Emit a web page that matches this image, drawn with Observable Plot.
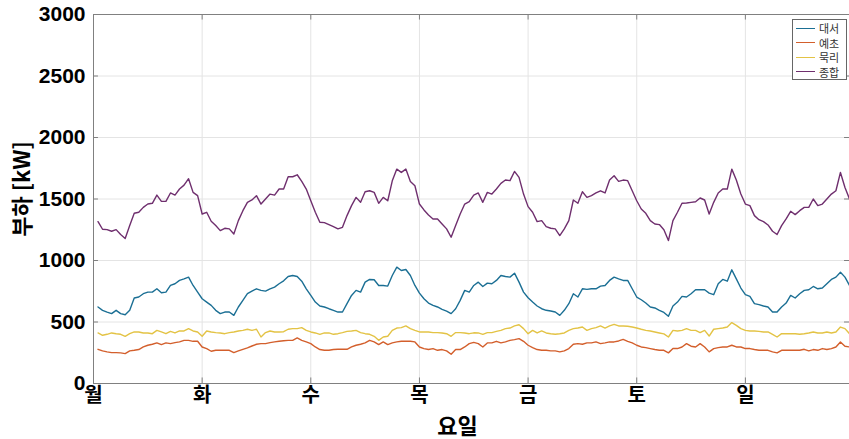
<!DOCTYPE html>
<html><head><meta charset="utf-8">
<script src="https://cdn.jsdelivr.net/npm/d3@7"></script>
<script src="https://cdn.jsdelivr.net/npm/@observablehq/plot@0.6"></script>
<style>
body{margin:0;background:#fff;}
#wrap{position:relative;width:849px;height:439px;overflow:hidden;}
#legend{position:absolute;left:792px;top:19px;width:55px;height:61px;border:1px solid #666;background:#fff;box-sizing:border-box;font-family:"Noto Sans CJK KR",sans-serif;font-size:11px;color:#333;}
.row{position:absolute;left:3px;height:14px;display:flex;align-items:center;white-space:nowrap;}
.sw{width:19px;height:0;border-top:1.5px solid;margin-right:4px;}
</style></head>
<body><div id="wrap"></div>
<script>
const seriesNames = ["대서","예초","묵리","종합"];
const colors = ["#1b6f94","#d35f2c","#e3c345","#6f2f6e"];
const dayLabels = ["월","화","수","목","금","토","일"];
const dayTicks = [0,24,48,72,96,120,144];
const yTicks = [0,500,1000,1500,2000,2500,3000];
const hours = d3.range(1,168);

const daeseo = [622,595,581,568,595,568,559,595,695,703,730,743,743,770,738,743,797,811,838,851,865,797,743,689,
662,635,595,568,581,581,554,622,676,730,751,770,757,751,770,784,811,835,870,878,870,832,770,716,
662,630,622,608,595,581,581,649,716,757,743,824,846,843,797,797,792,878,946,919,927,878,797,735,
689,654,635,622,603,589,568,608,676,757,743,797,824,789,816,811,838,878,870,865,897,824,743,697,
662,630,608,595,589,581,554,595,649,730,703,770,765,770,770,792,797,838,865,851,838,838,770,703,
681,654,622,614,595,578,546,630,662,708,703,730,762,762,762,735,722,811,846,832,924,851,776,722,
708,649,641,630,622,581,581,622,654,716,695,730,757,762,789,770,776,811,846,865,905,865,797];

const yecho = [278,265,257,251,251,249,243,265,270,276,297,311,319,330,316,330,324,332,338,351,351,343,343,297,
284,262,270,270,270,270,251,265,278,289,305,319,324,324,332,338,343,347,351,351,370,351,338,324,
297,276,270,270,276,278,278,278,297,311,319,330,351,338,316,338,316,330,338,343,343,343,338,297,
284,276,284,270,276,265,238,276,276,297,324,334,324,297,330,330,343,330,338,351,357,365,343,311,
292,276,270,270,265,265,257,265,284,319,324,319,330,330,338,324,330,338,338,346,359,343,330,311,
297,292,284,276,270,270,249,284,284,297,324,303,297,324,297,257,284,292,297,297,311,297,297,284,
284,276,270,270,270,257,249,270,270,270,270,270,278,265,276,270,284,276,284,297,338,303,297];

const mukri = [411,392,400,411,405,400,384,405,419,419,411,411,405,432,419,405,424,411,427,427,446,427,419,384,
427,419,414,411,405,414,419,427,432,441,432,441,378,414,427,419,419,421,441,446,446,454,432,419,
411,400,411,411,400,405,414,424,427,432,414,405,400,384,351,378,384,432,451,454,468,446,432,419,
419,419,414,414,411,405,384,414,414,411,405,412,411,400,414,414,424,432,446,451,468,478,446,405,
432,411,427,411,405,400,405,411,432,446,451,459,432,446,454,468,451,468,481,468,468,465,459,451,
441,432,427,419,411,403,378,432,427,432,446,432,432,414,432,386,441,446,451,459,495,473,446,432,
427,427,424,419,419,400,378,405,405,405,405,400,405,411,419,411,411,419,411,419,459,446,405];

const total = [1316,1254,1251,1238,1251,1211,1179,1284,1384,1392,1432,1459,1465,1532,1481,1481,1549,1532,1581,1613,1665,1554,1527,1378,
1392,1319,1284,1243,1262,1257,1216,1324,1405,1473,1492,1527,1459,1500,1540,1532,1581,1581,1681,1681,1697,1643,1581,1486,
1392,1311,1308,1292,1276,1257,1270,1365,1446,1513,1473,1559,1567,1554,1465,1513,1486,1648,1743,1716,1743,1643,1608,1459,
1411,1370,1338,1338,1297,1257,1189,1284,1378,1459,1478,1532,1549,1473,1554,1540,1581,1627,1654,1649,1724,1676,1540,1438,
1392,1316,1324,1276,1262,1257,1203,1257,1324,1492,1465,1559,1513,1527,1549,1567,1549,1654,1689,1643,1654,1649,1567,1486,
1419,1384,1324,1297,1292,1250,1162,1324,1392,1465,1468,1473,1478,1508,1492,1378,1473,1549,1581,1581,1743,1654,1540,1459,
1446,1365,1332,1316,1289,1238,1211,1284,1338,1400,1373,1405,1432,1432,1500,1446,1459,1500,1540,1567,1716,1594,1500];

const rows = [];
[daeseo, yecho, mukri, total].forEach((arr, k) =>
  arr.forEach((v, i) => rows.push({hour: hours[i], value: v, series: seriesNames[k]})));

const chart = Plot.plot({
  width: 849, height: 439,
  marginLeft: 93, marginRight: 0, marginTop: 14, marginBottom: 56,
  x: {domain: [0, 167]},
  y: {domain: [0, 3000]},
  color: {domain: seriesNames, range: colors},
  style: {fontFamily: "'Liberation Sans', 'Noto Sans CJK KR', sans-serif", background: "#fff", color: "#000"},
  marks: [
    Plot.gridX(dayTicks, {stroke: "#e4e4e4", strokeOpacity: 1}),
    Plot.gridY(yTicks, {stroke: "#e4e4e4", strokeOpacity: 1}),
    Plot.frame({stroke: "#808080"}),
    Plot.ruleX(dayTicks, {x: d => d, y1: 0, y2: 45, stroke: "#808080"}),
    Plot.ruleX(dayTicks, {x: d => d, y1: 2955, y2: 3000, stroke: "#808080"}),
    Plot.ruleY(yTicks, {y: d => d, x1: 0, x2: 1.1, stroke: "#808080"}),
    Plot.ruleY(yTicks, {y: d => d, x1: 165.9, x2: 167, stroke: "#808080"}),
    Plot.line(rows, {x: "hour", y: "value", z: "series", stroke: "series", strokeWidth: 1.4}),
    Plot.axisY({ticks: yTicks, tickSize: 0, tickPadding: 8, tickFormat: d => String(d), fontSize: 21, fontWeight: "bold", label: null, fill: "#000"}),
    Plot.axisX({ticks: dayTicks, tickSize: 0, tickPadding: 4, tickFormat: d => dayLabels[dayTicks.indexOf(d)],
      fontSize: 20, fontWeight: "bold", label: null, fill: "#000", fontFamily: "'Noto Sans CJK KR', sans-serif"}),
    Plot.text(["부하 [kW]"], {frameAnchor: "left", textAnchor: "middle", lineAnchor: "middle", rotate: -90, dx: -71, dy: -10, fontSize: 22, fontWeight: "bold",
      fontFamily: "'Noto Sans CJK KR', sans-serif", fill: "#000"}),
    Plot.text(["요일"], {frameAnchor: "bottom", textAnchor: "middle", dx: -14, dy: 50, fontSize: 22, fontWeight: "bold",
      fontFamily: "'Noto Sans CJK KR', sans-serif", fill: "#000"})
  ]
});
const wrap = document.getElementById("wrap");
wrap.appendChild(chart);

const legend = document.createElement("div");
legend.id = "legend";
seriesNames.forEach((name, i) => {
  const row = document.createElement("div");
  row.className = "row";
  row.style.top = (1 + i * 14.5) + "px";
  const sw = document.createElement("span");
  sw.className = "sw";
  sw.style.borderTopColor = colors[i];
  const t = document.createElement("span");
  t.textContent = name;
  row.appendChild(sw); row.appendChild(t);
  legend.appendChild(row);
});
wrap.appendChild(legend);
</script>
</body></html>
